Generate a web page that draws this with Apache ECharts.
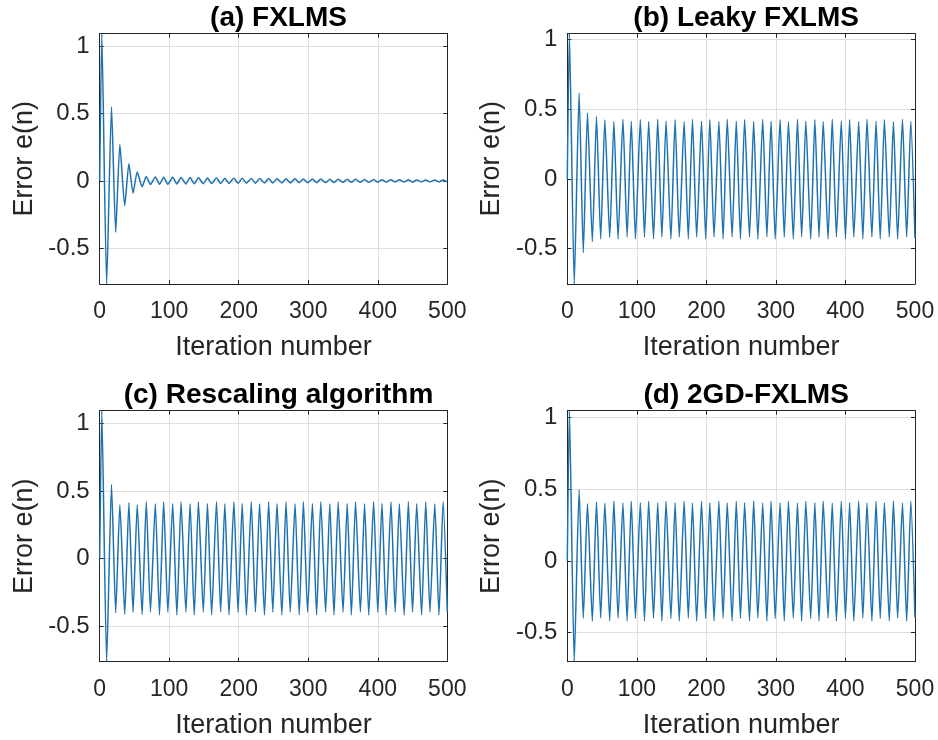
<!DOCTYPE html>
<html>
<head>
<meta charset="utf-8">
<script src="https://cdn.jsdelivr.net/npm/echarts@6/dist/echarts.min.js"></script>
<style>
html,body{margin:0;padding:0;background:#fff;}
#chart{width:938px;height:740px;}
</style>
</head>
<body>
<div id="chart"></div>
<script>
// Iteration numbers of the start point and of each successive extremum (peak, trough, ...)
const extremaIter = [0, 3, 10,
  17, 23, 29, 36, 42, 48, 54, 61, 67, 73, 80, 86, 92, 98, 105, 111, 117, 124,
  130, 136, 142, 149, 155, 161, 168, 174, 180, 186, 193, 199, 205, 211, 218, 224,
  230, 237, 243, 249, 255, 262, 268, 274, 281, 287, 293, 299, 306, 312, 318, 325,
  331, 337, 343, 350, 356, 362, 368, 375, 381, 387, 394, 400, 406, 412, 419, 425,
  431, 438, 444, 450, 456, 463, 469, 475, 482, 488, 494, 500];

// (a) FXLMS
const fxlmsErr = [0, 1.091, -0.763,
  0.55, -0.38, 0.27, -0.183, 0.128, -0.089, 0.066, -0.042, 0.034, -0.026,
  0.030, -0.024, 0.028, -0.024, 0.027, -0.022, 0.026, -0.022, 0.025, -0.020,
  0.024, -0.020, 0.023, -0.019, 0.022, -0.018, 0.021, -0.018, 0.021, -0.017,
  0.020, -0.016, 0.019, -0.016, 0.018, -0.015, 0.018, -0.015, 0.017, -0.014,
  0.016, -0.014, 0.016, -0.013, 0.015, -0.013, 0.014, -0.012, 0.014, -0.012,
  0.013, -0.011, 0.013, -0.011, 0.012, -0.010, 0.012, -0.010, 0.011, -0.010,
  0.011, -0.009, 0.010, -0.009, 0.010, -0.008, 0.009, -0.008, 0.009, -0.008,
  0.008, -0.007, 0.008, -0.007, 0.008, -0.007, 0.007, -0.006];

// (b) Leaky FXLMS
const leakyErr = [0, 1.042, -0.753,
  0.617, -0.528, 0.473, -0.449, 0.449, -0.430, 0.425, -0.420,
  0.413, -0.430, 0.428, -0.416, 0.414, -0.431, 0.427, -0.417,
  0.413, -0.430, 0.428, -0.416, 0.414, -0.431, 0.427, -0.417,
  0.413, -0.430, 0.428, -0.416, 0.414, -0.431, 0.427, -0.417,
  0.413, -0.430, 0.428, -0.416, 0.414, -0.431, 0.427, -0.417,
  0.413, -0.430, 0.428, -0.416, 0.414, -0.431, 0.427, -0.417,
  0.413, -0.430, 0.428, -0.416, 0.414, -0.431, 0.427, -0.417,
  0.413, -0.430, 0.428, -0.416, 0.414, -0.431, 0.427, -0.417,
  0.413, -0.430, 0.428, -0.416, 0.414, -0.431, 0.427, -0.417,
  0.413, -0.430, 0.428, -0.416, 0.414, -0.425];

// (c) Rescaling algorithm
const rescalingErr = [0, 1.096, -0.763,
  0.55, -0.400, 0.400, -0.412, 0.415, -0.398, 0.402, -0.414,
  0.422, -0.395, 0.407, -0.418, 0.421, -0.396, 0.408, -0.417,
  0.422, -0.395, 0.407, -0.418, 0.421, -0.396, 0.408, -0.417,
  0.422, -0.395, 0.407, -0.418, 0.421, -0.396, 0.408, -0.417,
  0.422, -0.395, 0.407, -0.418, 0.421, -0.396, 0.408, -0.417,
  0.422, -0.395, 0.407, -0.418, 0.421, -0.396, 0.408, -0.417,
  0.422, -0.395, 0.407, -0.418, 0.421, -0.396, 0.408, -0.417,
  0.422, -0.395, 0.407, -0.418, 0.421, -0.396, 0.408, -0.417,
  0.422, -0.395, 0.407, -0.418, 0.421, -0.396, 0.408, -0.417,
  0.422, -0.395, 0.407, -0.418, 0.421, -0.390];

// (d) 2GD-FXLMS
const gdErr = [0, 1.049, -0.703,
  0.495, -0.400, 0.402, -0.420, 0.414, -0.398, 0.404, -0.418,
  0.418, -0.400, 0.405, -0.420, 0.417, -0.401, 0.406, -0.419,
  0.418, -0.400, 0.405, -0.420, 0.417, -0.401, 0.406, -0.419,
  0.418, -0.400, 0.405, -0.420, 0.417, -0.401, 0.406, -0.419,
  0.418, -0.400, 0.405, -0.420, 0.417, -0.401, 0.406, -0.419,
  0.418, -0.400, 0.405, -0.420, 0.417, -0.401, 0.406, -0.419,
  0.418, -0.400, 0.405, -0.420, 0.417, -0.401, 0.406, -0.419,
  0.418, -0.400, 0.405, -0.420, 0.417, -0.401, 0.406, -0.419,
  0.418, -0.400, 0.405, -0.420, 0.417, -0.401, 0.406, -0.419,
  0.418, -0.400, 0.405, -0.420, 0.417, -0.395];

const panelTitles = ['(a) FXLMS', '(b) Leaky FXLMS', '(c) Rescaling algorithm', '(d) 2GD-FXLMS'];
const panelSeries = [fxlmsErr, leakyErr, rescalingErr, gdErr];
const yLimits = [[-0.763, 1.091], [-0.753, 1.042], [-0.763, 1.096], [-0.703, 1.049]];
const xLabel = 'Iteration number';
const yLabel = 'Error e(n)';

const FONT = '"Liberation Sans", Arial, Helvetica, sans-serif';
const INK = '#262626';
const grids = [
  {left: 99.7, top: 33.7, width: 347.6, height: 250.3},
  {left: 567.3, top: 33.7, width: 347.7, height: 250.3},
  {left: 99.7, top: 410.7, width: 347.6, height: 251},
  {left: 567.3, top: 410.7, width: 347.7, height: 251}
];

const option = {
  animation: false,
  backgroundColor: '#fff',
  title: [], grid: [], xAxis: [], yAxis: [], series: []
};

grids.forEach((g, i) => {
  option.grid.push(Object.assign({containLabel: false, outerBoundsMode: 'none'}, g));
  option.title.push({
    text: panelTitles[i],
    left: g.left + g.width / 2,
    top: g.top - 34,
    textAlign: 'center',
    textStyle: {fontFamily: FONT, fontSize: 28, fontWeight: 'bold', color: '#000'}
  });
  const tickStyle = {show: true, inside: true, length: 4, lineStyle: {color: INK, width: 1}};
  const lineStyle = {show: true, onZero: false, lineStyle: {color: INK, width: 1}};
  // bottom x axis
  option.xAxis.push({
    type: 'value', gridIndex: i, position: 'bottom', min: 0, max: 500, interval: 100,
    axisLine: lineStyle, axisTick: tickStyle,
    axisLabel: {fontFamily: FONT, fontSize: 23, color: INK, margin: 16},
    splitLine: {show: true, lineStyle: {color: '#dedede', width: 1}},
    name: xLabel, nameLocation: 'middle', nameGap: 50,
    nameTextStyle: {fontFamily: FONT, fontSize: 27, color: INK}
  });
  // top x axis (box + ticks)
  option.xAxis.push({
    type: 'value', gridIndex: i, position: 'top', min: 0, max: 500, interval: 100,
    axisLine: lineStyle, axisTick: tickStyle, axisLabel: {show: false}, splitLine: {show: false}
  });
  // left y axis
  option.yAxis.push({
    type: 'value', gridIndex: i, position: 'left', min: yLimits[i][0], max: yLimits[i][1],
    splitNumber: 4, minInterval: 0.5, maxInterval: 0.5,
    axisLine: lineStyle, axisTick: tickStyle,
    axisLabel: {fontFamily: FONT, fontSize: 24, color: INK, margin: 10, showMinLabel: false, showMaxLabel: false},
    splitLine: {show: true, lineStyle: {color: '#dedede', width: 1}},
    name: yLabel, nameLocation: 'middle', nameGap: 62, nameRotate: 90,
    nameTextStyle: {fontFamily: FONT, fontSize: 27, color: INK}
  });
  // right y axis (box + ticks)
  option.yAxis.push({
    type: 'value', gridIndex: i, position: 'right', min: yLimits[i][0], max: yLimits[i][1],
    splitNumber: 4, minInterval: 0.5, maxInterval: 0.5,
    axisLine: lineStyle, axisTick: tickStyle, axisLabel: {show: false}, splitLine: {show: false}
  });
  const vals = panelSeries[i];
  option.series.push({
    type: 'line', xAxisIndex: 2 * i, yAxisIndex: 2 * i,
    data: extremaIter.map((x, k) => [x, vals[k]]),
    symbol: 'none', clip: true, smooth: 0.2,
    lineStyle: {color: '#1f72b0', width: 1.5},
    z: 3
  });
});

const chart = echarts.init(document.getElementById('chart'), null, {renderer: 'canvas'});
chart.setOption(option);
</script>
</body>
</html>
